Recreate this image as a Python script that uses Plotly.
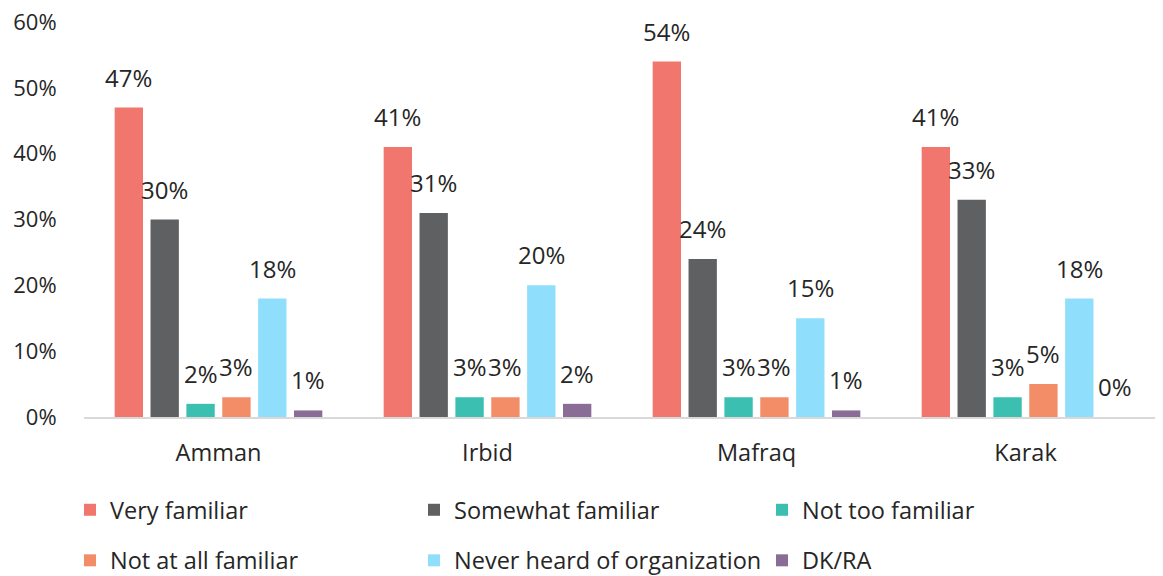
import plotly.graph_objects as go

categories = ["Amman", "Irbid", "Mafraq", "Karak"]
series_names = ["Very familiar", "Somewhat familiar", "Not too familiar",
                "Not at all familiar", "Never heard of organization", "DK/RA"]
very_familiar = [0.47, 0.41, 0.54, 0.41]
somewhat_familiar = [0.30, 0.31, 0.24, 0.33]
not_too_familiar = [0.02, 0.03, 0.03, 0.03]
not_at_all_familiar = [0.03, 0.03, 0.03, 0.05]
never_heard = [0.18, 0.20, 0.15, 0.18]
dk_ra = [0.01, 0.02, 0.01, 0.00]
series_values = [very_familiar, somewhat_familiar, not_too_familiar,
                 not_at_all_familiar, never_heard, dk_ra]
y_tick_vals = [0.0, 0.1, 0.2, 0.3, 0.4, 0.5, 0.6]
y_tick_text = ["0%", "10%", "20%", "30%", "40%", "50%", "60%"]
colors = ["#F1766D", "#5F6062", "#3BBFB0", "#F38D68", "#8FDFFC", "#896D96"]
legend_ids = ["legend", "legend2", "legend3", "legend", "legend2", "legend3"]

FONT = "Open Sans"
TXT = "#262626"
OFF = 8  # page body margin offset
W, H = 1163 - OFF, 576 - OFF
ML, MR, MT, MB = 4, 3, 4, 4
PW, PH = W - ML - MR, H - MT - MB
# plot area in figure pixels
PX0, PX1, PY0, PY1 = 84 - OFF, W - MR, 22 - OFF, 417 - OFF
x_dom = [(PX0 - ML) / PW, (PX1 - ML) / PW]
y_dom = [(H - MB - PY1) / PH, (H - MB - PY0) / PH]

BARGAP, GROUPGAP = 0.2, 0.21
cat_w = (PX1 - PX0) / len(categories)
slot = cat_w * (1 - BARGAP) / len(series_names)

fig = go.Figure()
for i, (name, vals, col) in enumerate(zip(series_names, series_values, colors)):
    fig.add_trace(go.Bar(
        name=name, x=categories, y=vals,
        marker=dict(color=col, line=dict(width=0)),
        legend=legend_ids[i], legendgroup=name,
    ))
    for c, v in zip(categories, vals):
        fig.add_annotation(
            x=c, y=v, xref="x", yref="y",
            text=f"{round(v*100)}%", showarrow=False,
            xshift=(i - (len(series_names) - 1) / 2) * slot,
            yanchor="bottom", yshift=12,
            font=dict(family=FONT, size=24, color=TXT),
        )

leg_y = (H - MB - 480) / PH
leg_common = dict(orientation="v", tracegroupgap=17, bgcolor="rgba(0,0,0,0)",
                  font=dict(family=FONT, size=23.5, color=TXT),
                  xanchor="left", yanchor="top", y=leg_y, itemwidth=30)
fig.update_layout(
    width=W, height=H,
    margin=dict(l=ML, r=MR, t=MT, b=MB, autoexpand=False),
    barmode="group", bargap=BARGAP, bargroupgap=GROUPGAP,
    plot_bgcolor="white", paper_bgcolor="white",
    font=dict(family=FONT, size=23, color=TXT),
    legend=dict(x=(62 - ML) / PW, **leg_common),
    legend2=dict(x=(406 - ML) / PW, **leg_common),
    legend3=dict(x=(754 - ML) / PW, **leg_common),
    xaxis=dict(domain=x_dom, automargin=False, showline=True, linecolor="#D9D9D9",
               linewidth=2, ticks="outside", ticklen=14, tickcolor="rgba(0,0,0,0)",
               tickfont=dict(family=FONT, size=23.5, color=TXT)),
    yaxis=dict(domain=y_dom, automargin=False, range=[0, 0.6],
               tickmode="array", tickvals=y_tick_vals, ticktext=y_tick_text,
               ticklabeloverflow="allow",
               showgrid=False, zeroline=False, showline=False,
               ticks="outside", ticklen=22, tickcolor="rgba(0,0,0,0)",
               tickfont=dict(family=FONT, size=22, color=TXT)),
)
fig.write_html("out.html")
